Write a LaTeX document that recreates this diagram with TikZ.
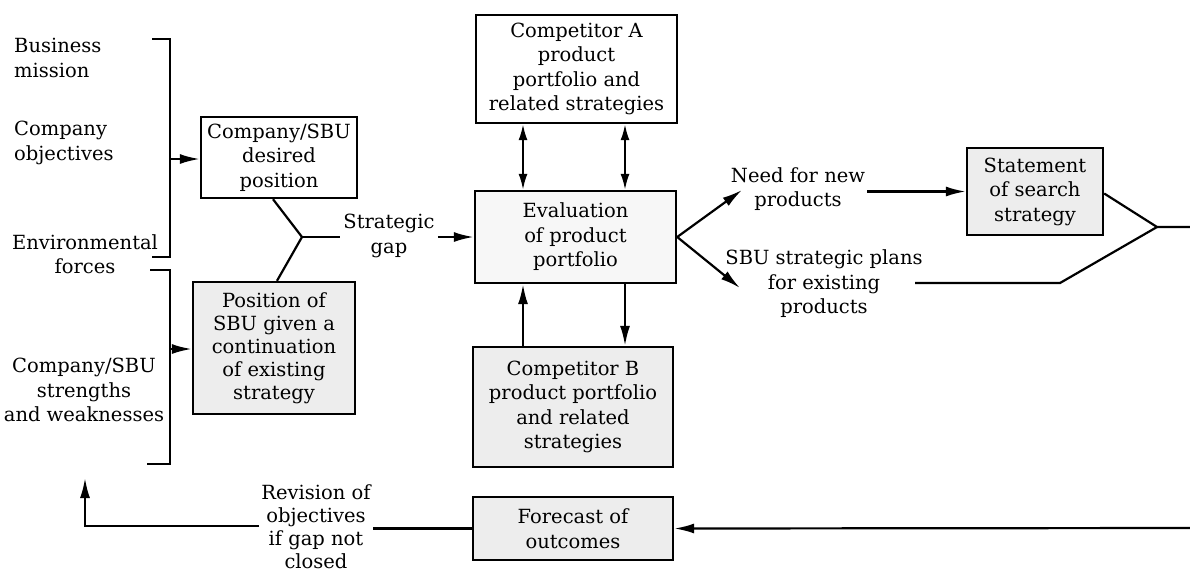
\documentclass[tikz,border=0pt]{standalone}
\usepackage{fontspec}
\newfontfamily\diagfont{DejaVu Serif}
\usetikzlibrary{arrows.meta}
\begin{document}
\begin{tikzpicture}[x=1pt,y=-1pt,
  txt/.style={font=\diagfont\fontsize{19.5}{24.5}\selectfont, align=center},
  box/.style={txt, draw, line width=2.4pt, inner sep=0pt},
  shaded/.style={box, fill=black!7},
  lbl/.style={txt, inner sep=2pt},
  ln/.style={line width=2.2pt},
  arr/.style={line width=2.2pt, -{Latex[length=20pt,width=10pt]}},
  dbl/.style={line width=2pt, {Latex[length=16pt,width=9pt]}-{Latex[length=16pt,width=9pt]}}]
\useasboundingbox (0,0) rectangle (1190,574);

% inputs on the left
\node[lbl, anchor=west, align=left] (mission) at (12,58) {Business\\mission};
\node[lbl, anchor=west, align=left] (objectives) at (12,143) {Company\\objectives};
\node[lbl] (env) at (85,254) {Environmental\\forces};
\node[lbl] (sw) at (84,390) {Company/SBU\\strengths\\and weaknesses};

% brackets grouping the inputs
\draw[ln] (152,39) -- (170,39) -- (170,257) -- (152,257);
\draw[ln] (150,270) -- (170,270) -- (170,464) -- (147,464);
\coordinate (br1) at (170,159);
\coordinate (br2) at (170,349);

% position boxes
\node[box, minimum width=156pt, minimum height=81pt] (b1) at (279,157.5) {Company/SBU\\desired\\position};
\node[shaded, minimum width=162pt, minimum height=132pt, font=\diagfont\fontsize{19.5}{23}\selectfont] (b2) at (274,348) {Position of\\SBU given a\\continuation\\of existing\\strategy};
\draw[arr] (br1) -- (br1 -| b1.west);
\draw[arr] (br2) -- (br2 -| b2.west);

% strategic gap
\coordinate (yj) at (302,237);
\node[lbl, inner sep=3pt] (gap) at (389,236) {Strategic\\gap};
\draw[ln] ([xshift=-6pt]b1.south) -- (yj) -- ([xshift=3pt]b2.north);
\draw[ln] (yj) -- (gap.west |- yj);

% portfolio evaluation and competitors
\node[box, minimum width=201pt, minimum height=108pt] (A) at (576.5,69) {Competitor A\\product\\portfolio and\\related strategies};
\node[box, fill=black!3, minimum width=201pt, minimum height=92pt] (E) at (575.5,237) {Evaluation\\of product\\portfolio};
\node[shaded, minimum width=200pt, minimum height=120pt] (B) at (573,407) {Competitor B\\product portfolio\\and related\\strategies};
\draw[arr] (gap.east |- E.west) -- (E.west);

\coordinate (cl) at (523,0);
\coordinate (cr) at (625,0);
\draw[dbl] (A.south -| cl) -- (E.north -| cl);
\draw[dbl] (A.south -| cr) -- (E.north -| cr);
\draw[arr] (B.north -| cl) -- (E.south -| cl);
\draw[arr] (E.south -| cr) -- (B.north -| cr);

% outputs of the evaluation
\node[lbl] (need) at (798,189) {Need for new\\products};
\node[lbl] (plans) at (824,284) {SBU strategic plans\\for existing\\products};
\coordinate (ntip) at (742,190);
\coordinate (ptip) at (740,288);
\draw[arr] (E.east) -- (ntip);
\draw[arr] (E.east) -- (ptip);

\node[shaded, minimum width=136pt, minimum height=87pt] (S) at (1035,191.5) {Statement\\of search\\strategy};
\draw[arr] (need.east |- S.west) -- (S.west);

\coordinate (j2) at (1157,227);
\coordinate (rout) at (1190,227);
\coordinate (pstart) at (915,283);
\coordinate (kink) at (1060,283);
\draw[ln] ([yshift=-2pt]S.east) -- (j2) -- (rout);
\draw[ln] (pstart) -- (kink) -- (j2);

% feedback loop
\node[shaded, minimum width=200pt, minimum height=63pt] (F) at (573,528.5) {Forecast of\\outcomes};
\coordinate (rin) at (1190,528);
\draw[arr] (rin) -- (F.east);

\node[lbl, font=\diagfont\fontsize{19.5}{23}\selectfont] (rev) at (316,527) {Revision of\\objectives\\if gap not\\closed};
\draw[ln] (F.west) -- (rev.east |- F.west);
\coordinate (back) at (85,526);
\coordinate (backtip) at (85,478);
\draw[arr] (rev.west |- back) -- (back) -- (backtip);
\end{tikzpicture}
\end{document}
